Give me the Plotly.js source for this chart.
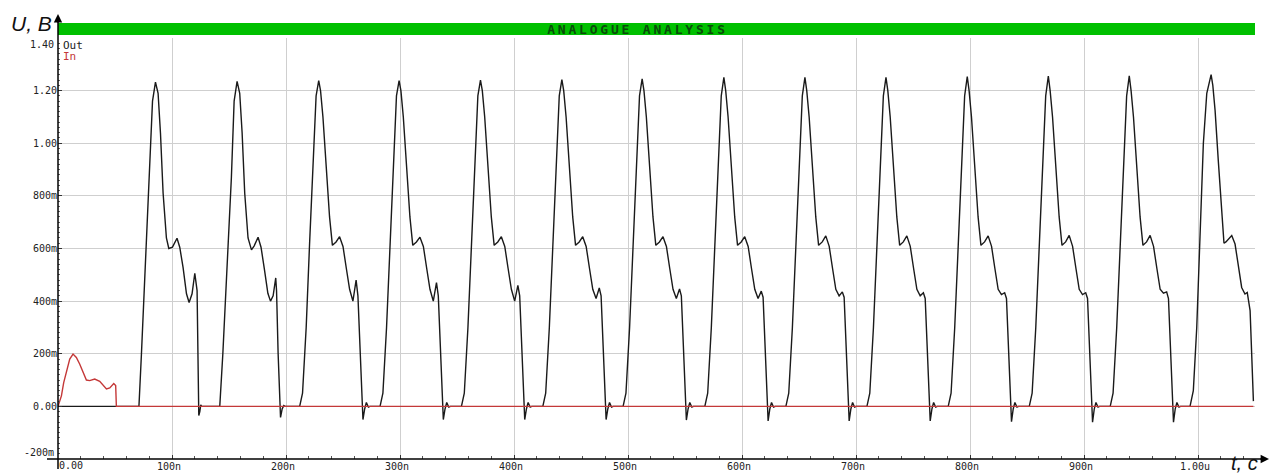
<!DOCTYPE html>
<html>
<head>
<meta charset="utf-8">
<script src="https://cdn.plot.ly/plotly-3.0.1.min.js"></script>
<style>
  html, body { margin: 0; padding: 0; background: #ffffff; }
  #chart { width: 1270px; height: 475px; }
  .gtitle { letter-spacing: 2.8px; }
</style>
</head>
<body>
<div id="chart"></div>
<script>
// ---------- DATA (time in ns, voltage in V) ----------
const outTimeNs = [
  0,
  // cycle 1
  71.0, 73.2, 75.2, 77.6, 80.5, 82.9, 85.5, 87.8, 89.9, 92.2, 95.1, 97.2, 100.4, 104.4, 106.8, 109.7, 112.7, 115.0, 117.6, 120.0, 122.0, 122.7, 123.5, 124.4, 125.2, 126.0,
  // cycle 2
  141.9, 144.6, 146.8, 149.2, 152.1, 154.5, 157.1, 159.4, 161.5, 163.8, 166.7, 169.7, 172.1, 175.5, 178.1, 181.1, 184.1, 186.4, 188.7, 191.0, 191.7, 193.1, 195.2, 196.6, 198.1, 199.1,
  // cycle 3
  212.0, 214.5, 217.7, 220.7, 223.7, 226.4, 228.7, 230.3, 232.4, 235.3, 238.2, 240.7, 243.9, 247.0, 250.0, 252.9, 255.8, 258.7, 261.5, 263.1, 265.2, 267.5, 269.0, 270.5, 272.3, 273.7,
  // cycle 4
  282.5, 285.0, 288.2, 291.2, 294.2, 296.9, 299.2, 300.8, 302.9, 305.8, 308.7, 311.2, 314.4, 317.5, 320.5, 323.4, 326.3, 329.2, 332.0, 333.6, 335.7, 338.0, 339.5, 341.0, 342.8, 344.2,
  // cycle 5
  353.9, 356.4, 359.6, 362.6, 365.6, 368.3, 370.6, 372.2, 374.3, 377.2, 380.1, 382.6, 385.8, 388.9, 391.9, 394.8, 397.7, 400.6, 403.4, 405.0, 407.1, 409.4, 410.9, 412.4, 414.2, 415.6,
  // cycle 6
  425.3, 427.8, 431.0, 434.0, 437.0, 439.7, 442.0, 443.6, 445.7, 448.6, 451.5, 454.0, 457.2, 460.3, 463.3, 466.2, 469.1, 472.0, 474.8, 476.4, 478.5, 480.8, 482.3, 483.8, 485.6, 487.0,
  // cycle 7
  495.7, 498.2, 501.4, 504.4, 507.4, 510.1, 512.4, 514.0, 516.1, 519.0, 521.9, 524.4, 527.6, 530.7, 533.7, 536.6, 539.5, 542.4, 545.2, 546.8, 548.9, 551.2, 552.7, 554.2, 556.0, 557.4,
  // cycle 8
  567.4, 569.9, 573.1, 576.1, 579.1, 581.8, 584.1, 585.7, 587.8, 590.7, 593.6, 596.1, 599.3, 602.4, 605.4, 608.3, 611.2, 614.1, 616.9, 618.5, 620.6, 622.9, 624.4, 625.9, 627.7, 629.1,
  // cycle 9
  638.5, 641.0, 644.2, 647.2, 650.2, 652.9, 655.2, 656.8, 658.9, 661.8, 664.7, 667.2, 670.4, 673.5, 676.5, 679.4, 682.3, 685.2, 688.0, 689.6, 691.7, 694.0, 695.5, 697.0, 698.8, 700.2,
  // cycle 10
  709.6, 712.1, 715.3, 718.3, 721.3, 724.0, 726.3, 727.9, 730.0, 732.9, 735.8, 738.3, 741.5, 744.6, 747.6, 750.5, 753.4, 756.3, 759.1, 760.7, 762.8, 765.1, 766.6, 768.1, 769.9, 771.3,
  // cycle 11
  780.9, 783.4, 786.6, 789.6, 792.6, 795.3, 797.6, 799.2, 801.3, 804.2, 807.1, 809.6, 812.8, 815.9, 818.9, 821.8, 824.7, 827.6, 830.4, 832.0, 834.1, 836.4, 837.9, 839.4, 841.2, 842.6,
  // cycle 12
  852.0, 854.5, 857.7, 860.7, 863.7, 866.4, 868.7, 870.3, 872.4, 875.3, 878.2, 880.7, 883.9, 887.0, 890.0, 892.9, 895.8, 898.7, 901.5, 903.1, 905.2, 907.5, 909.0, 910.5, 912.3, 913.7,
  // cycle 13
  923.0, 925.5, 928.7, 931.7, 934.7, 937.4, 939.7, 941.3, 943.4, 946.3, 949.2, 951.7, 954.9, 958.0, 961.0, 963.9, 966.8, 969.7, 972.5, 974.1, 976.2, 978.5, 980.0, 981.5, 983.3, 984.7,
  // cycle 14 (truncated)
  993.0, 995.9, 998.9, 1001.8, 1004.7, 1007.7, 1011.5, 1013.0, 1015.0, 1017.8, 1020.8, 1022.8, 1024.5, 1026.6, 1029.6, 1032.5, 1035.4, 1038.3, 1041.2, 1043.2, 1045.7, 1047.2, 1048.6
];
const outVolt = [
  0,
  // cycle 1
  0, 0.20, 0.40, 0.605, 0.87, 1.16, 1.232, 1.19, 1.037, 0.81, 0.64, 0.60, 0.605, 0.639, 0.605, 0.528, 0.428, 0.395, 0.428, 0.506, 0.44, 0.15, -0.035, -0.02, 0.006, 0,
  // cycle 2
  0, 0.20, 0.40, 0.605, 0.87, 1.16, 1.235, 1.19, 1.04, 0.81, 0.64, 0.595, 0.61, 0.643, 0.605, 0.52, 0.43, 0.40, 0.42, 0.488, 0.44, 0.20, -0.042, -0.01, 0.003, 0,
  // cycle 3
  0, 0.05, 0.30, 0.62, 0.90, 1.18, 1.238, 1.20, 1.10, 0.89, 0.72, 0.612, 0.625, 0.645, 0.608, 0.525, 0.445, 0.40, 0.48, 0.42, 0.20, -0.05, -0.01, 0.015, -0.003, 0,
  // cycle 4
  0, 0.05, 0.30, 0.62, 0.90, 1.18, 1.238, 1.20, 1.10, 0.89, 0.72, 0.612, 0.625, 0.643, 0.608, 0.525, 0.445, 0.40, 0.47, 0.42, 0.20, -0.05, -0.01, 0.015, -0.003, 0,
  // cycle 5
  0, 0.05, 0.30, 0.62, 0.90, 1.18, 1.240, 1.20, 1.10, 0.89, 0.72, 0.612, 0.625, 0.645, 0.608, 0.525, 0.445, 0.40, 0.46, 0.42, 0.20, -0.05, -0.01, 0.015, -0.003, 0,
  // cycle 6
  0, 0.05, 0.30, 0.62, 0.90, 1.18, 1.242, 1.20, 1.10, 0.89, 0.72, 0.612, 0.625, 0.645, 0.608, 0.525, 0.445, 0.41, 0.45, 0.42, 0.20, -0.05, -0.01, 0.015, -0.003, 0,
  // cycle 7
  0, 0.05, 0.30, 0.62, 0.90, 1.18, 1.245, 1.20, 1.10, 0.89, 0.72, 0.612, 0.625, 0.645, 0.608, 0.525, 0.445, 0.41, 0.446, 0.42, 0.20, -0.052, -0.01, 0.015, -0.003, 0,
  // cycle 8
  0, 0.05, 0.30, 0.62, 0.90, 1.18, 1.250, 1.20, 1.10, 0.89, 0.72, 0.612, 0.625, 0.645, 0.608, 0.525, 0.445, 0.41, 0.438, 0.415, 0.20, -0.055, -0.01, 0.015, -0.003, 0,
  // cycle 9
  0, 0.05, 0.30, 0.62, 0.90, 1.18, 1.250, 1.20, 1.10, 0.89, 0.72, 0.612, 0.625, 0.648, 0.608, 0.525, 0.445, 0.42, 0.435, 0.415, 0.20, -0.055, -0.01, 0.015, -0.003, 0,
  // cycle 10
  0, 0.05, 0.30, 0.62, 0.90, 1.18, 1.250, 1.20, 1.10, 0.89, 0.72, 0.612, 0.625, 0.648, 0.608, 0.525, 0.445, 0.42, 0.432, 0.41, 0.20, -0.055, -0.01, 0.015, -0.003, 0,
  // cycle 11
  0, 0.05, 0.30, 0.62, 0.90, 1.18, 1.253, 1.20, 1.10, 0.89, 0.72, 0.612, 0.625, 0.648, 0.608, 0.525, 0.445, 0.425, 0.432, 0.41, 0.20, -0.058, -0.01, 0.015, -0.003, 0,
  // cycle 12
  0, 0.05, 0.30, 0.62, 0.90, 1.18, 1.255, 1.20, 1.10, 0.89, 0.72, 0.612, 0.625, 0.650, 0.608, 0.525, 0.445, 0.425, 0.432, 0.41, 0.20, -0.06, -0.01, 0.015, -0.003, 0,
  // cycle 13
  0, 0.05, 0.30, 0.62, 0.90, 1.18, 1.256, 1.20, 1.10, 0.89, 0.72, 0.612, 0.625, 0.650, 0.608, 0.525, 0.445, 0.43, 0.435, 0.41, 0.20, -0.06, -0.01, 0.015, -0.003, 0,
  // cycle 14 (truncated)
  0, 0.06, 0.30, 0.68, 1.00, 1.19, 1.261, 1.22, 1.124, 0.934, 0.72, 0.62, 0.625, 0.636, 0.649, 0.617, 0.54, 0.452, 0.427, 0.433, 0.364, 0.21, 0.02
];

const inTimeNs = [0, 3.0, 5.0, 7.4, 10.3, 13.2, 16.1, 19.0, 21.9, 24.9, 27.8, 32.2, 36.6, 39.5, 42.5, 45.4, 48.9, 50.6, 51.2, 1048.6];
const inVolt   = [0, 0.04, 0.09, 0.136, 0.18, 0.199, 0.186, 0.161, 0.13, 0.10, 0.098, 0.104, 0.095, 0.079, 0.066, 0.07, 0.087, 0.079, 0, 0];

const xTickVals = [0, 100, 200, 300, 400, 500, 600, 700, 800, 900, 1000];
const xTickText = ["0.00", "100n", "200n", "300n", "400n", "500n", "600n", "700n", "800n", "900n", "1.00u"];
const yTickVals = [-0.2, 0, 0.2, 0.4, 0.6, 0.8, 1.0, 1.2, 1.4];
const yTickText = ["-200m", "0.00", "200m", "400m", "600m", "800m", "1.00", "1.20", "1.40"];

const seriesNames = ["Out", "In"];
const chartTitle = "ANALOGUE ANALYSIS";
const yTitle = "U, B";
const xTitle = "t, c";

// ---------- LAYOUT ----------
const W = 1270, H = 475;
const M = { l: 58, r: 15, t: 38, b: 16 };
const PW = W - M.l - M.r, PH = H - M.t - M.b;
const px = (x) => (x - M.l) / PW;          // pixel -> paper x
const py = (y) => (H - M.b - y) / PH;      // pixel -> paper y

const mono = "DejaVu Sans Mono, monospace";
const tickFont = { family: mono, size: 10, color: "#222222" };

// The labels at the ends of each axis are nudged inward (as in the reference),
// so they are drawn as annotations anchored to the axis values.
const lastY = yTickText.length - 1;
const xTickShown = xTickText.map((t, i) => (i === 0 ? "" : t));
const yTickShown = yTickText.map((t, i) => (i === 0 || i === lastY ? "" : t));

const traces = [
  { x: outTimeNs, y: outVolt, name: seriesNames[0], type: "scatter", mode: "lines",
    line: { color: "#1a1a1a", width: 1.4 }, showlegend: false },
  { x: inTimeNs, y: inVolt, name: seriesNames[1], type: "scatter", mode: "lines",
    line: { color: "#c43838", width: 1.4 }, showlegend: false }
];

const layout = {
  width: W, height: H,
  margin: M,
  paper_bgcolor: "#ffffff",
  plot_bgcolor: "#ffffff",
  showlegend: false,
  title: {
    text: chartTitle,
    font: { family: mono, size: 13, color: "#0b4a0b", weight: "bold" },
    x: 0.502, xref: "container", xanchor: "center",
    y: 1 - 29.5 / H, yref: "container", yanchor: "middle"
  },
  xaxis: {
    range: [0, 1050],
    tickmode: "array", tickvals: xTickVals, ticktext: xTickShown,
    showgrid: true, gridcolor: "#cfcfcf", gridwidth: 1,
    zeroline: false, showline: false,
    ticks: "inside", ticklen: 4, tickcolor: "#333333", tickwidth: 1,
    ticklabelshift: -3,
    minor: { tick0: 0, dtick: 20, ticks: "inside", ticklen: 3, tickcolor: "#555555", showgrid: false },
    tickfont: tickFont,
    fixedrange: true
  },
  yaxis: {
    range: [-0.2, 1.4],
    tickmode: "array", tickvals: yTickVals, ticktext: yTickShown,
    showgrid: true, gridcolor: "#cfcfcf", gridwidth: 1,
    zeroline: false, showline: false,
    ticks: "inside", ticklen: 4, tickcolor: "#333333", tickwidth: 1,
    minor: { tick0: 0, dtick: 0.02, ticks: "inside", ticklen: 2, tickcolor: "#666666", showgrid: false },
    tickfont: tickFont,
    fixedrange: true
  },
  shapes: [
    // green header band
    { type: "rect", xref: "paper", yref: "paper", x0: 0, x1: 1, y0: py(35), y1: py(23),
      fillcolor: "#00c000", line: { width: 0 } },
    // y axis line (extends above plot)
    { type: "line", xref: "paper", yref: "paper", x0: 0, x1: 0, y0: py(469), y1: py(17),
      line: { color: "#000000", width: 1.5 } },
    // x axis line (extends right of plot)
    { type: "line", xref: "paper", yref: "paper", x0: px(47), x1: px(1266), y0: 0, y1: 0,
      line: { color: "#000000", width: 1.5 } }
  ],
  annotations: [
    // arrowheads
    { xref: "paper", yref: "paper", x: 0, y: py(14), ax: 0, ay: 10, text: "", showarrow: true,
      arrowhead: 2, arrowsize: 1.2, arrowwidth: 1.4, arrowcolor: "#000000" },
    { xref: "paper", yref: "paper", x: px(1269), y: 0, ax: -10, ay: 0, text: "", showarrow: true,
      arrowhead: 2, arrowsize: 1.2, arrowwidth: 1.4, arrowcolor: "#000000" },
    // end tick labels
    { xref: "paper", yref: "y", x: px(55), y: yTickVals[lastY], yshift: -6, xanchor: "right", yanchor: "middle",
      text: yTickText[lastY], showarrow: false, font: tickFont, borderpad: 0 },
    { xref: "paper", yref: "y", x: px(55), y: yTickVals[0], yshift: 7, xanchor: "right", yanchor: "middle",
      text: yTickText[0], showarrow: false, font: tickFont, borderpad: 0 },
    { xref: "x", yref: "paper", x: xTickVals[0], y: py(465), xanchor: "left", yanchor: "middle",
      text: xTickText[0], showarrow: false, font: tickFont, borderpad: 0 },
    // axis titles
    { xref: "paper", yref: "paper", x: px(10), y: py(24), xanchor: "left", yanchor: "middle",
      text: "<i>" + yTitle + "</i>", showarrow: false, borderpad: 0,
      font: { family: "Liberation Sans, Arial, sans-serif", size: 21, color: "#111111" } },
    { xref: "paper", yref: "paper", x: px(1230), y: py(475), xanchor: "left", yanchor: "bottom",
      text: "<i>" + xTitle + "</i>", showarrow: false, borderpad: 0,
      font: { family: "Liberation Sans, Arial, sans-serif", size: 20, color: "#111111" } },
    // legend labels
    { xref: "paper", yref: "paper", x: px(62), y: py(45), xanchor: "left", yanchor: "middle",
      text: seriesNames[0], showarrow: false, borderpad: 0, font: { family: mono, size: 11, color: "#222222" } },
    { xref: "paper", yref: "paper", x: px(62), y: py(56), xanchor: "left", yanchor: "middle",
      text: seriesNames[1], showarrow: false, borderpad: 0, font: { family: mono, size: 11, color: "#c43838" } }
  ]
};

Plotly.newPlot("chart", traces, layout, { staticPlot: true, displayModeBar: false });
</script>
</body>
</html>
